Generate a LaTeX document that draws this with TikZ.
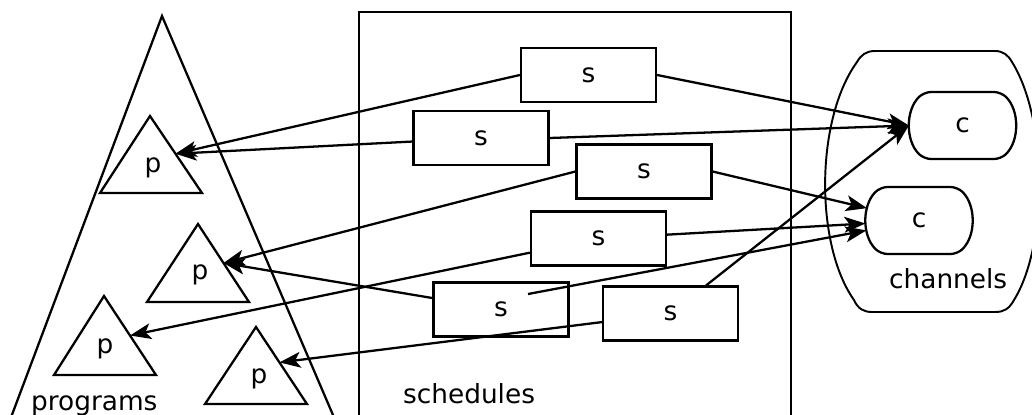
\documentclass[tikz,border=0pt]{standalone}
\usepackage{fontspec}
\setmainfont{DejaVu Sans}
\usetikzlibrary{arrows.meta,shapes.misc,calc}
\begin{document}
\begin{tikzpicture}[x=0.02cm,y=-0.02cm,line width=1.3pt,font=\fontsize{15}{18}\selectfont]
\tikzstyle{every node}=[inner sep=0pt]
\tikzstyle{sbox}=[draw,rectangle,minimum width=2.7cm,minimum height=1.08cm]
\tikzstyle{cbox}=[draw,rounded rectangle,rounded rectangle arc length=90,rounded corners=4pt,minimum width=2.1cm,minimum height=1.34cm]
\tikzstyle{arr}=[-{Stealth[length=12pt,width=9pt,inset=3pt]}]
\useasboundingbox (0,0) rectangle (1032,414);
% programs
\draw (4,436) -- (162,16) -- (342,436);
\draw (100,193) -- (150,116) coordinate (p1a) -- (202,193) coordinate (p1b) -- cycle;
\draw (147,302) -- (198,224) coordinate (p2a) -- (249,302) coordinate (p2b) -- cycle;
\draw (54,375) -- (104,296) coordinate (p3a) -- (156,375) coordinate (p3b) -- cycle;
\draw (205,404) -- (256,327) coordinate (p4a) -- (307,404) coordinate (p4b) -- cycle;
\node (p1) at (153,168) {p};
\node (p2) at (200,275) {p};
\node (p3) at (105,349) {p};
\node (p4) at (259,379) {p};
\coordinate (p1r) at ($(p1a)!0.49!(p1b)$);
\coordinate (p2r) at ($(p2a)!0.5!(p2b)$);
\coordinate (p3r) at ($(p3a)!0.5!(p3b)$);
\coordinate (p4r) at ($(p4a)!0.46!(p4b)$);
\node[anchor=base west] (prog) at (30,410) {programs};
% schedules
\draw (359,440) -- (359,12) -- (791,12) -- (791,440);
\node[sbox] (s1) at (588.5,75) {s};
\node[sbox] (s2) at (481,138) {s};
\node[sbox] (s3) at (644,171.5) {s};
\node[sbox] (s4) at (598.5,238.5) {s};
\node[sbox] (s5) at (501,309.5) {s};
\node[sbox] (s6) at (670.5,313.5) {s};
\coordinate (s5i) at (528,294);
\node[anchor=base west] (sched) at (402,403) {schedules};
% channels
\draw[line width=1.1pt] (875,51) -- (995,51)
  .. controls (1003,51) and (1008,55) .. (1012,62)
  .. controls (1048,120) and (1048,245) .. (1014,300)
  .. controls (1009,309) and (1004,312) .. (995,312) -- (872,312)
  .. controls (864,312) and (858,309) .. (854,300)
  .. controls (815,245) and (815,120) .. (857,62)
  .. controls (861,55) and (866,51) .. (875,51) -- cycle;
\node[cbox] (c1) at (962.5,125.5) {c};
\node[cbox] (c2) at (919,220.5) {c};
\node[anchor=base west] (chlab) at (888,288) {channels};
% arrows
\draw[arr] (s1.west) -- (p1r);
\draw[arr] (s2) -- (p1r);
\draw[arr] (s1.east) -- (c1.west);
\draw[arr] (s2.east) -- (c1.west);
\draw[arr] (s3.west) -- (p2r);
\draw[arr] (s3.east) -- (c2);
\draw[arr] (s4) -- (c2);
\draw[arr] (s4) -- (p3r);
\draw[arr] (s5) -- (p2r);
\draw[arr] (s5i) -- (c2);
\draw[arr] (s6) -- (c1.west);
\draw[arr] (s6) -- (p4r);
\end{tikzpicture}
\end{document}
